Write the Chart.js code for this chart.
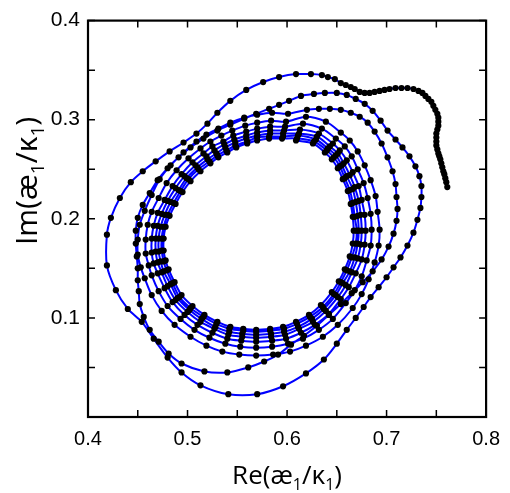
<!DOCTYPE html>
<html>
<head>
<meta charset="utf-8">
<script src="https://cdn.jsdelivr.net/npm/chart.js@4.4.0/dist/chart.umd.min.js"></script>
<style>
  html, body { margin: 0; padding: 0; background: #fff; }
  #wrap { width: 510px; height: 493px; }
</style>
</head>
<body>
<div id="wrap"><canvas id="chart" width="510" height="493"></canvas></div>
<script>
/* trajectory of æ1/κ1 in the complex plane, [Re, Im] */

// slow start on the right, then over the top
const tail = [
  [0.761,0.232],[0.760,0.237],[0.759,0.241],[0.758,0.245],[0.757,0.248],[0.756,0.252],[0.755,0.256],
  [0.754,0.260],[0.753,0.263],[0.752,0.266],[0.751,0.270],[0.750,0.274],[0.750,0.278],[0.750,0.282],
  [0.750,0.286],[0.751,0.290],[0.752,0.294],[0.752,0.298],[0.752,0.302],[0.751,0.306],[0.749,0.310],
  [0.747,0.314],[0.745,0.318],[0.742,0.321],[0.739,0.324],[0.736,0.327],[0.732,0.329],[0.727,0.331],
  [0.721,0.332],[0.715,0.332],[0.709,0.332],[0.703,0.331],[0.698,0.330],[0.693,0.329],[0.688,0.328],
  [0.683,0.327],[0.678,0.327],[0.673,0.328],[0.668,0.331],[0.664,0.333],[0.659,0.335],[0.654,0.337],
  [0.648,0.341],[0.641,0.343],[0.635,0.345],[0.624,0.346],[0.609,0.346]
];

// first (largest) turn
const turn1 = [
  [0.592,0.343],[0.576,0.338],[0.559,0.330],[0.543,0.319],[0.530,0.307],[0.520,0.296],[0.509,0.286],
  [0.496,0.277],[0.482,0.268],[0.468,0.258],[0.455,0.248],[0.443,0.237],[0.432,0.221],[0.423,0.201],
  [0.419,0.184],[0.419,0.153],[0.428,0.128],[0.440,0.109],[0.454,0.096],[0.466,0.079],[0.480,0.060],
  [0.494,0.045],[0.513,0.032],[0.541,0.023],[0.570,0.023],[0.596,0.031],[0.619,0.044],[0.637,0.058],
  [0.650,0.074],[0.660,0.088],[0.669,0.100],[0.677,0.111],[0.684,0.121],[0.692,0.131],[0.700,0.141],
  [0.707,0.151],[0.714,0.161],[0.721,0.173],[0.727,0.186],[0.731,0.199],[0.734,0.211],[0.735,0.222],
  [0.735,0.233],[0.733,0.243],[0.729,0.253],[0.723,0.263],[0.716,0.272],[0.709,0.280],[0.701,0.289],
  [0.694,0.299],[0.686,0.309],[0.678,0.316],[0.669,0.321],[0.660,0.325],[0.650,0.327],[0.638,0.327],
  [0.627,0.326],[0.614,0.324]
];

const turn2 = [
  [0.602,0.319],[0.592,0.315],[0.582,0.311],[0.569,0.306],[0.557,0.301],[0.543,0.295],[0.530,0.289],
  [0.516,0.281],[0.503,0.272],[0.491,0.262],[0.480,0.251],[0.470,0.239],[0.462,0.226],[0.455,0.214],
  [0.450,0.201],[0.448,0.188],[0.448,0.175],[0.449,0.162],[0.450,0.150],[0.450,0.138],[0.451,0.127],
  [0.452,0.114],[0.456,0.101],[0.462,0.088],[0.471,0.076],[0.481,0.064],[0.494,0.054],[0.517,0.046],
  [0.540,0.045],[0.561,0.050],[0.577,0.056],[0.591,0.063],[0.604,0.073],[0.617,0.082],[0.630,0.092],
  [0.642,0.103],[0.654,0.114],[0.665,0.125],[0.676,0.136],[0.686,0.147],[0.695,0.159],[0.702,0.172],
  [0.707,0.185],[0.710,0.198],[0.711,0.210],[0.710,0.222],[0.709,0.235],[0.706,0.248],[0.701,0.262],
  [0.695,0.276],[0.688,0.288],[0.681,0.297],[0.673,0.303],[0.664,0.307],[0.654,0.310],[0.643,0.311],
  [0.632,0.311],[0.620,0.310]
];

// turns settling onto the limit cycle
const turn3 = [
  [0.601,0.306],[0.585,0.307],[0.570,0.305],[0.557,0.302],[0.543,0.297],[0.531,0.291],[0.519,0.285],
  [0.509,0.278],[0.496,0.267],[0.483,0.254],[0.472,0.240],[0.464,0.224],[0.457,0.208],[0.452,0.194],
  [0.450,0.179],[0.450,0.164],[0.453,0.151],[0.457,0.140],[0.464,0.123],[0.474,0.107],[0.487,0.093],
  [0.503,0.081],[0.519,0.072],[0.535,0.066],[0.552,0.063],[0.569,0.062],[0.586,0.063],[0.603,0.066],
  [0.619,0.072],[0.636,0.081],[0.651,0.093],[0.666,0.110],[0.675,0.124],[0.682,0.139],[0.688,0.156],
  [0.692,0.173],[0.693,0.189],[0.691,0.207],[0.689,0.223],[0.684,0.239],[0.678,0.254],[0.671,0.268],
  [0.663,0.279],[0.654,0.287],[0.639,0.298],[0.619,0.303]
];

const turn4 = [
  [0.599,0.298],[0.584,0.299],[0.570,0.297],[0.558,0.294],[0.545,0.289],[0.534,0.284],[0.523,0.278],
  [0.513,0.271],[0.501,0.261],[0.489,0.249],[0.479,0.236],[0.471,0.221],[0.464,0.207],[0.460,0.194],
  [0.458,0.179],[0.458,0.165],[0.461,0.153],[0.464,0.143],[0.471,0.127],[0.480,0.112],[0.493,0.099],
  [0.507,0.088],[0.522,0.080],[0.538,0.074],[0.553,0.071],[0.569,0.070],[0.585,0.071],[0.601,0.074],
  [0.616,0.079],[0.632,0.088],[0.646,0.099],[0.659,0.115],[0.668,0.128],[0.675,0.142],[0.680,0.158],
  [0.684,0.173],[0.685,0.189],[0.684,0.205],[0.681,0.221],[0.677,0.236],[0.671,0.250],[0.665,0.263],
  [0.658,0.273],[0.649,0.281],[0.635,0.291],[0.616,0.296]
];

const turn5 = [
  [0.598,0.293],[0.583,0.293],[0.570,0.291],[0.559,0.288],[0.546,0.284],[0.536,0.278],[0.525,0.273],
  [0.516,0.266],[0.505,0.257],[0.494,0.245],[0.485,0.233],[0.477,0.219],[0.470,0.206],[0.466,0.193],
  [0.464,0.180],[0.464,0.166],[0.466,0.155],[0.470,0.145],[0.477,0.130],[0.485,0.116],[0.497,0.103],
  [0.510,0.093],[0.525,0.085],[0.540,0.079],[0.554,0.077],[0.569,0.076],[0.585,0.077],[0.599,0.079],
  [0.614,0.085],[0.628,0.093],[0.642,0.104],[0.654,0.119],[0.662,0.131],[0.669,0.145],[0.675,0.159],
  [0.678,0.174],[0.679,0.188],[0.678,0.204],[0.675,0.219],[0.672,0.233],[0.666,0.247],[0.660,0.259],
  [0.653,0.269],[0.646,0.276],[0.632,0.286],[0.613,0.290]
];

const turn6 = [
  [0.597,0.289],[0.583,0.289],[0.570,0.287],[0.559,0.284],[0.547,0.280],[0.537,0.275],[0.527,0.269],
  [0.519,0.263],[0.508,0.254],[0.497,0.243],[0.488,0.231],[0.480,0.218],[0.474,0.205],[0.470,0.193],
  [0.468,0.180],[0.468,0.167],[0.470,0.156],[0.474,0.146],[0.480,0.132],[0.488,0.118],[0.500,0.106],
  [0.513,0.096],[0.527,0.089],[0.541,0.083],[0.555,0.081],[0.569,0.080],[0.584,0.081],[0.598,0.083],
  [0.612,0.089],[0.626,0.096],[0.639,0.107],[0.651,0.121],[0.659,0.133],[0.665,0.146],[0.671,0.160],
  [0.674,0.174],[0.675,0.188],[0.674,0.204],[0.672,0.218],[0.668,0.232],[0.663,0.244],[0.657,0.256],
  [0.651,0.266],[0.643,0.273],[0.630,0.283],[0.612,0.286]
];

const turn7 = [
  [0.596,0.286],[0.583,0.286],[0.570,0.284],[0.559,0.281],[0.548,0.277],[0.538,0.272],[0.529,0.266],
  [0.520,0.260],[0.510,0.252],[0.499,0.241],[0.491,0.229],[0.483,0.217],[0.477,0.204],[0.473,0.192],
  [0.471,0.180],[0.471,0.167],[0.473,0.157],[0.476,0.147],[0.483,0.134],[0.490,0.120],[0.502,0.108],
  [0.514,0.099],[0.528,0.091],[0.542,0.086],[0.555,0.084],[0.569,0.083],[0.584,0.084],[0.597,0.086],
  [0.611,0.091],[0.625,0.099],[0.637,0.109],[0.649,0.123],[0.656,0.135],[0.663,0.147],[0.668,0.161],
  [0.671,0.175],[0.672,0.188],[0.671,0.203],[0.669,0.217],[0.666,0.230],[0.660,0.243],[0.655,0.254],
  [0.649,0.264],[0.641,0.271],[0.629,0.280],[0.611,0.284]
];

const turn8 = [
  [0.596,0.283],[0.582,0.283],[0.570,0.282],[0.560,0.278],[0.548,0.274],[0.539,0.269],[0.530,0.264],
  [0.522,0.258],[0.511,0.250],[0.501,0.240],[0.493,0.228],[0.486,0.216],[0.480,0.204],[0.476,0.192],
  [0.474,0.180],[0.474,0.168],[0.476,0.157],[0.479,0.148],[0.485,0.135],[0.492,0.121],[0.503,0.110],
  [0.516,0.101],[0.529,0.094],[0.542,0.089],[0.556,0.087],[0.569,0.086],[0.583,0.087],[0.597,0.089],
  [0.610,0.094],[0.623,0.101],[0.636,0.111],[0.647,0.124],[0.654,0.136],[0.660,0.148],[0.665,0.161],
  [0.669,0.175],[0.670,0.188],[0.668,0.202],[0.666,0.216],[0.663,0.229],[0.658,0.241],[0.653,0.253],
  [0.647,0.262],[0.640,0.269],[0.627,0.278],[0.610,0.281]
];

const turn9 = [
  [0.595,0.281],[0.582,0.281],[0.570,0.279],[0.560,0.276],[0.549,0.272],[0.540,0.267],[0.531,0.262],
  [0.523,0.256],[0.513,0.248],[0.503,0.238],[0.495,0.227],[0.488,0.215],[0.482,0.203],[0.478,0.192],
  [0.476,0.180],[0.476,0.168],[0.478,0.158],[0.481,0.149],[0.487,0.136],[0.494,0.123],[0.505,0.112],
  [0.517,0.103],[0.530,0.096],[0.543,0.091],[0.556,0.089],[0.569,0.088],[0.583,0.089],[0.596,0.091],
  [0.609,0.096],[0.622,0.103],[0.634,0.113],[0.645,0.126],[0.652,0.137],[0.658,0.149],[0.663,0.162],
  [0.666,0.175],[0.667,0.188],[0.666,0.202],[0.664,0.215],[0.661,0.228],[0.656,0.240],[0.651,0.251],
  [0.645,0.260],[0.638,0.267],[0.626,0.276],[0.609,0.279]
];

// axes
const xTickMarks = [0.4, 0.45, 0.5, 0.55, 0.6, 0.65, 0.7, 0.75, 0.8];
const yTickMarks = [0, 0.05, 0.1, 0.15, 0.2, 0.25, 0.3, 0.35, 0.4];
const xLabels = [0.4, 0.5, 0.6, 0.7, 0.8];
const yLabels = [0.1, 0.2, 0.3, 0.4];
const xTitle = [['Re(æ', false], ['1', true], ['/κ', false], ['1', true], [')', false]];
const yTitle = [['Im(æ', false], ['1', true], ['/κ', false], ['1', true], [')', false]];

const path = [].concat(tail, turn1, turn2, turn3, turn4, turn5, turn6, turn7, turn8, turn9)
  .map(p => ({ x: p[0], y: p[1] }));

const r2 = v => Math.round(v * 100) / 100;

// draws "Re(æ₁/κ₁)" style text with real subscripts, centred on 0,0
function drawTitle(ctx, parts, size) {
  const fam = '"Open Sans", sans-serif';
  const fontOf = sub => `${sub ? Math.round(size * 0.62) : size}px ${fam}`;
  let total = 0;
  parts.forEach(([t, sub]) => { ctx.font = fontOf(sub); total += ctx.measureText(t).width; });
  let cx = -total / 2;
  ctx.textBaseline = 'alphabetic';
  ctx.textAlign = 'left';
  parts.forEach(([t, sub]) => {
    ctx.font = fontOf(sub);
    ctx.fillText(t, cx, sub ? size * 0.22 : 0);
    cx += ctx.measureText(t).width;
  });
}

const framePlugin = {
  id: 'frame',
  afterDraw(chart) {
    const { ctx, chartArea: a, scales: { x, y } } = chart;
    const len = 7;
    ctx.save();
    ctx.strokeStyle = '#000';
    ctx.lineWidth = 1.5;
    ctx.beginPath();
    xTickMarks.forEach(v => {
      const px = x.getPixelForValue(v);
      ctx.moveTo(px, a.bottom); ctx.lineTo(px, a.bottom - len);
      ctx.moveTo(px, a.top);    ctx.lineTo(px, a.top + len);
    });
    yTickMarks.forEach(v => {
      const py = y.getPixelForValue(v);
      ctx.moveTo(a.left, py);  ctx.lineTo(a.left + len, py);
      ctx.moveTo(a.right, py); ctx.lineTo(a.right - len, py);
    });
    ctx.stroke();
    ctx.lineWidth = 2.2;
    ctx.strokeRect(a.left, a.top, a.right - a.left, a.bottom - a.top);

    ctx.fillStyle = '#000';
    ctx.save();
    ctx.translate((a.left + a.right) / 2, 484);
    drawTitle(ctx, xTitle, 26);
    ctx.restore();
    ctx.save();
    ctx.translate(37, 181);
    ctx.rotate(-Math.PI / 2);
    drawTitle(ctx, yTitle, 30);
    ctx.restore();
    ctx.restore();
  }
};

new Chart(document.getElementById('chart'), {
  type: 'scatter',
  data: {
    datasets: [{
      data: path,
      showLine: true,
      borderColor: '#0000ff',
      borderWidth: 2,
      tension: 0.3,
      pointRadius: 3.1,
      pointBackgroundColor: '#000',
      pointBorderWidth: 0,
      pointHoverRadius: 3.1
    }]
  },
  options: {
    responsive: false,
    animation: false,
    layout: { padding: { top: 13, right: 16, left: 0, bottom: 0 } },
    plugins: { legend: { display: false }, tooltip: { enabled: false } },
    scales: {
      x: {
        type: 'linear', min: 0.4, max: 0.8,
        grid: { display: false, drawTicks: false },
        border: { display: false },
        afterFit: s => { s.height = 76; },
        ticks: {
          stepSize: 0.05, autoSkip: false, maxRotation: 0, padding: 10,
          color: '#000', font: { family: '"Liberation Sans", Arial, sans-serif', size: 20 },
          callback: v => xLabels.includes(r2(v)) ? r2(v).toFixed(1) : ''
        }
      },
      y: {
        type: 'linear', min: 0, max: 0.4,
        grid: { display: false, drawTicks: false },
        border: { display: false },
        afterFit: s => { s.width = 88; },
        ticks: {
          stepSize: 0.05, autoSkip: false, padding: 8,
          color: '#000', font: { family: '"Liberation Sans", Arial, sans-serif', size: 21 },
          callback: v => yLabels.includes(r2(v)) ? r2(v).toFixed(1) : ''
        }
      }
    }
  },
  plugins: [framePlugin]
});
</script>
</body>
</html>
